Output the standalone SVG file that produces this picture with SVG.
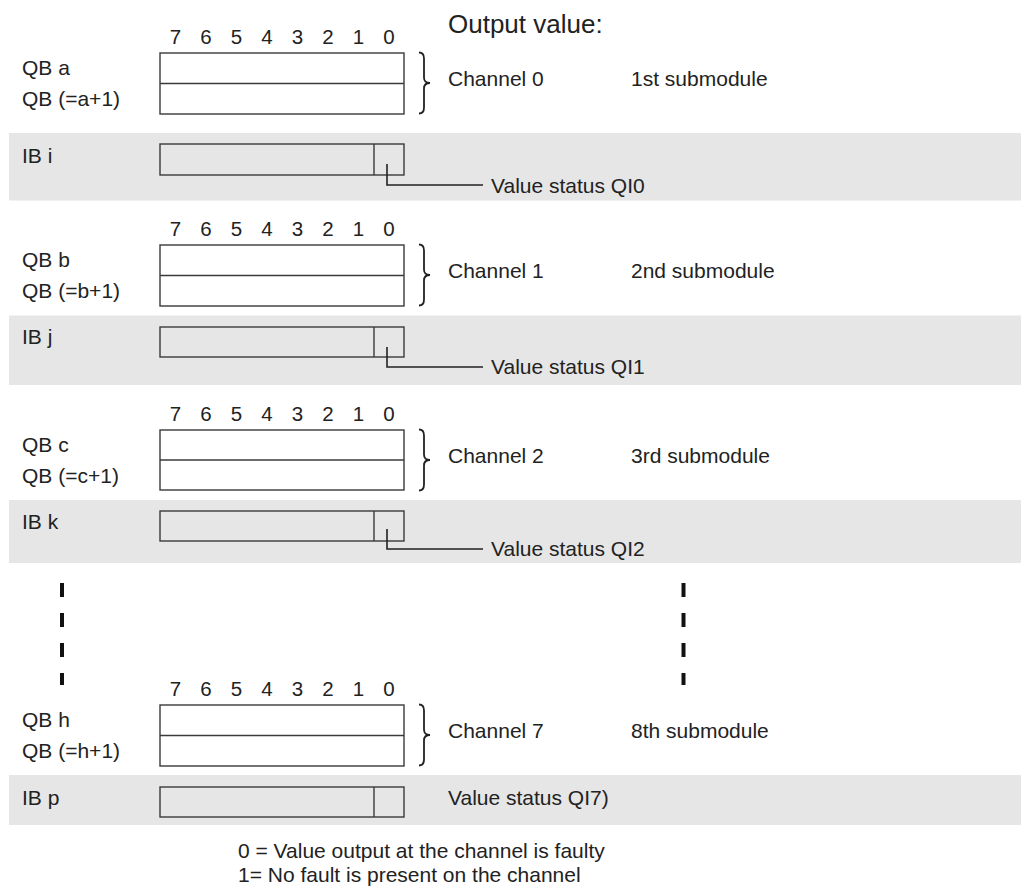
<svg xmlns="http://www.w3.org/2000/svg" width="1021" height="891" viewBox="0 0 1021 891">
<style>
  text { font-family: "Liberation Sans", Arial, sans-serif; fill: #222; }
  .lbl { font-size: 21px; }
  .dig { font-size: 20.5px; text-anchor: middle; }
  .title { font-size: 26px; }
  .band { fill: #e6e6e6; }
  .box { fill: #fff; stroke: #3a3a3a; stroke-width: 1.4; }
  .ibox { fill: none; stroke: #3a3a3a; stroke-width: 1.4; }
  .ln { fill: none; stroke: #3a3a3a; stroke-width: 1.4; }
  .conn { fill: none; stroke: #222; stroke-width: 1.6; }
  .brace { fill: none; stroke: #222; stroke-width: 1.8; }
  .dash { stroke: #111; stroke-width: 4; }
</style>
<defs>
  <g id="digits">
    <text class="dig" x="175.5" y="0">7</text>
    <text class="dig" x="206" y="0">6</text>
    <text class="dig" x="236.5" y="0">5</text>
    <text class="dig" x="267" y="0">4</text>
    <text class="dig" x="297.5" y="0">3</text>
    <text class="dig" x="328" y="0">2</text>
    <text class="dig" x="358.5" y="0">1</text>
    <text class="dig" x="389" y="0">0</text>
  </g>
  <path id="brace" class="brace" d="M419,0 Q424,0 424,6 L424,25 Q424,30.5 430,30.5 Q424,30.5 424,36 L424,55 Q424,61 419,61"/>
</defs>

<!-- gray bands -->
<rect class="band" x="9" y="133" width="1012" height="67.5"/>
<rect class="band" x="9" y="315.5" width="1012" height="69.5"/>
<rect class="band" x="9" y="500" width="1012" height="63"/>
<rect class="band" x="9" y="775" width="1012" height="50"/>

<text class="title" x="448" y="33">Output value:</text>

<g id="submodule1">
  <use href="#digits" transform="translate(0,43.5)"/>
  <text class="lbl" x="22" y="75">QB a</text>
  <text class="lbl" x="22" y="106">QB (=a+1)</text>
  <rect class="box" x="160" y="53" width="244" height="61"/>
  <line class="ln" x1="160" y1="83.5" x2="404" y2="83.5"/>
  <use href="#brace" transform="translate(0,52.5)"/>
  <text class="lbl" x="448" y="86">Channel 0</text>
  <text class="lbl" x="631" y="86">1st submodule</text>
  <text class="lbl" x="22" y="163">IB i</text>
  <rect class="ibox" x="160" y="144" width="244" height="31"/>
  <line class="ln" x1="374" y1="144" x2="374" y2="175"/>
  <text class="lbl" x="491" y="193">Value status QI0</text>
</g>

<g id="submodule2">
  <use href="#digits" transform="translate(0,235.5)"/>
  <text class="lbl" x="22" y="267">QB b</text>
  <text class="lbl" x="22" y="298">QB (=b+1)</text>
  <rect class="box" x="160" y="245" width="244" height="61"/>
  <line class="ln" x1="160" y1="275.5" x2="404" y2="275.5"/>
  <use href="#brace" transform="translate(0,244.5)"/>
  <text class="lbl" x="448" y="278">Channel 1</text>
  <text class="lbl" x="631" y="278">2nd submodule</text>
  <text class="lbl" x="22" y="344">IB j</text>
  <rect class="ibox" x="160" y="327" width="244" height="30"/>
  <line class="ln" x1="374" y1="327" x2="374" y2="357"/>
  <text class="lbl" x="491" y="374">Value status QI1</text>
</g>

<g id="submodule3">
  <use href="#digits" transform="translate(0,420.5)"/>
  <text class="lbl" x="22" y="452">QB c</text>
  <text class="lbl" x="22" y="483">QB (=c+1)</text>
  <rect class="box" x="160" y="430" width="244" height="60"/>
  <line class="ln" x1="160" y1="460" x2="404" y2="460"/>
  <use href="#brace" transform="translate(0,429.5)"/>
  <text class="lbl" x="448" y="463">Channel 2</text>
  <text class="lbl" x="631" y="463">3rd submodule</text>
  <text class="lbl" x="22" y="529">IB k</text>
  <rect class="ibox" x="160" y="511" width="244" height="30"/>
  <line class="ln" x1="374" y1="511" x2="374" y2="541"/>
  <text class="lbl" x="491" y="556">Value status QI2</text>
</g>

<g id="ellipsis">
  <line class="dash" x1="62" y1="583" x2="62" y2="597"/>
  <line class="dash" x1="62" y1="613" x2="62" y2="627"/>
  <line class="dash" x1="62" y1="643" x2="62" y2="657"/>
  <line class="dash" x1="62" y1="673" x2="62" y2="685"/>
  <line class="dash" x1="683.5" y1="583" x2="683.5" y2="597"/>
  <line class="dash" x1="683.5" y1="613" x2="683.5" y2="627"/>
  <line class="dash" x1="683.5" y1="643" x2="683.5" y2="657"/>
  <line class="dash" x1="683.5" y1="673" x2="683.5" y2="685"/>
</g>

<g id="submodule8">
  <use href="#digits" transform="translate(0,696)"/>
  <text class="lbl" x="22" y="727">QB h</text>
  <text class="lbl" x="22" y="758">QB (=h+1)</text>
  <rect class="box" x="160" y="705" width="244" height="61"/>
  <line class="ln" x1="160" y1="735.5" x2="404" y2="735.5"/>
  <use href="#brace" transform="translate(0,704.5)"/>
  <text class="lbl" x="448" y="738">Channel 7</text>
  <text class="lbl" x="631" y="738">8th submodule</text>
  <text class="lbl" x="22" y="805">IB p</text>
  <rect class="ibox" x="160" y="787" width="244" height="30"/>
  <line class="ln" x1="374" y1="787" x2="374" y2="817"/>
  <text class="lbl" x="448" y="805">Value status QI7)</text>
</g>

<g id="connectors">
  <polyline class="conn" points="387,164 387,185 483,185"/>
  <polyline class="conn" points="387,347 387,367 483,367"/>
  <polyline class="conn" points="387,529 387,549 483,549"/>
</g>

<g id="legend">
  <text class="lbl" x="238" y="858">0 = Value output at the channel is faulty</text>
  <text class="lbl" x="238" y="882">1= No fault is present on the channel</text>
</g>
</svg>
